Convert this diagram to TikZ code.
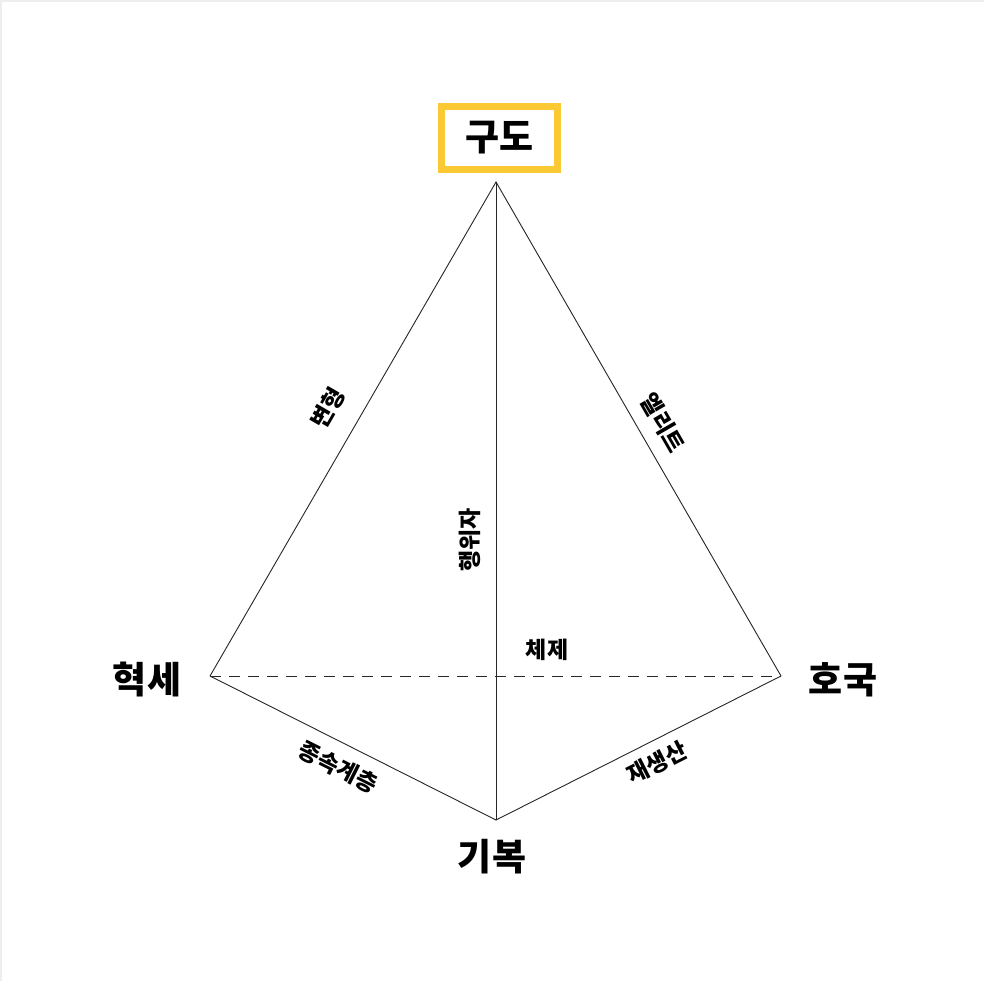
\documentclass[tikz,border=0pt]{standalone}
\usepackage{fontspec}
\newfontfamily\kor{Noto Sans CJK KR}

\begin{document}
\begin{tikzpicture}[
  x=1pt, y=-1pt,
  every node/.style={font=\kor\bfseries},
  vertexlabel/.style={font=\kor\bfseries\fontsize{37}{40}\selectfont, inner sep=0pt},
  edgelabel/.style={font=\kor\bfseries\fontsize{23}{26}\selectfont, inner sep=0pt},
  edgeline/.style={black!85, line width=0.9pt},
]

\definecolor{boxyellow}{RGB}{250,201,52}
\definecolor{framegray}{RGB}{238,238,238}

% ============================================================
% CANVAS
% ============================================================
\fill[framegray] (0,0) rectangle (984,981);
\fill[white] (2,2) rectangle (984,981);
\useasboundingbox (0,0) rectangle (984,981);

% ============================================================
% VERTICES
% ============================================================
\coordinate (top)    at (496,182);
\coordinate (left)   at (210,676);
\coordinate (right)  at (781,676);
\coordinate (bottom) at (496,820);

% ============================================================
% EDGES
% ============================================================
\draw[edgeline] (left) -- (top) -- (right);
\draw[edgeline] (left) -- (bottom) -- (right);
\draw[edgeline] (top) -- (bottom);
\draw[edgeline, dash pattern=on 11pt off 8pt] (left) -- (right);

% ============================================================
% VERTEX LABELS
% ============================================================
\node[vertexlabel, draw=boxyellow, line width=7pt,
      minimum width=116pt, minimum height=63pt] (gudo) at (499.5,138) {구도};
\node[vertexlabel] (hyeokse) at (147,680) {혁세};
\node[vertexlabel] (hoguk)   at (843,680) {호국};
\node[vertexlabel] (gibok)   at (492,857) {기복};

% ============================================================
% EDGE LABELS
% ============================================================
\node[edgelabel, rotate=60]    (byeonhyeong) at (328,408) {변형};
\node[edgelabel, rotate=-60]   (elite)       at (663,423) {엘리트};
\node[edgelabel, rotate=90]    (haengwija)   at (470,540) {행위자};
\node[edgelabel]               (cheje)       at (547,650) {체제};
\node[edgelabel, rotate=-26.7] (jongsok)     at (338,767) {종속계층};
\node[edgelabel, rotate=26.8]  (jaesaeng)    at (657,763) {재생산};

\end{tikzpicture}
\end{document}
